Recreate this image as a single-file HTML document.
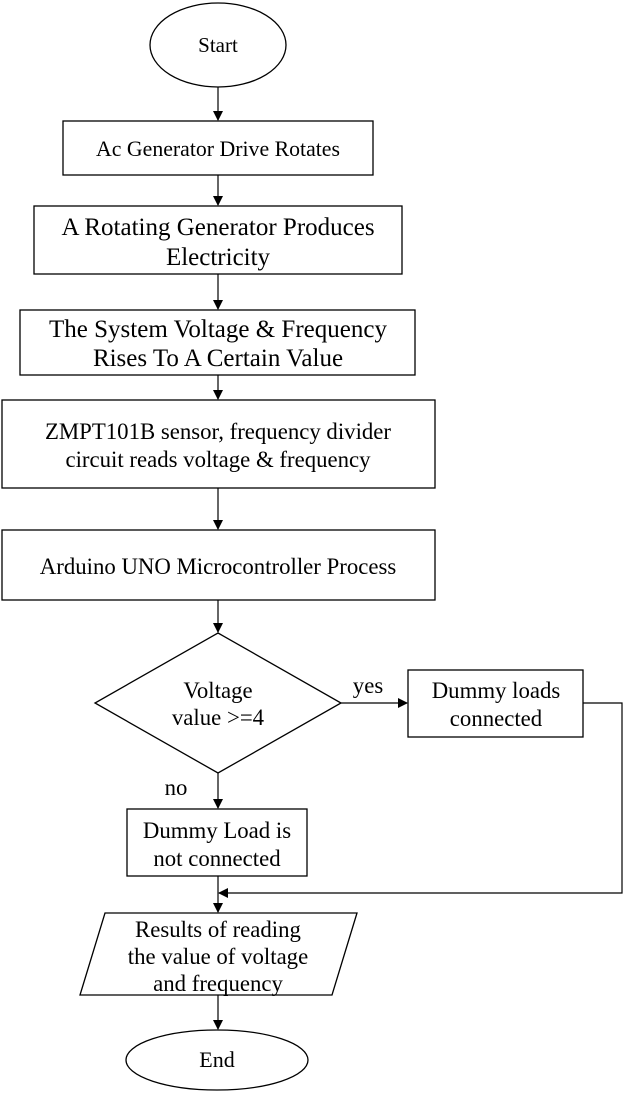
<!DOCTYPE html>
<html><head><style>html,body{margin:0;padding:0;background:#fff}svg{display:block}text{font-family:"Liberation Serif",serif;fill:#000}</style></head>
<body>
<svg width="623" height="1094" viewBox="0 0 623 1094" xmlns="http://www.w3.org/2000/svg">
<defs><marker id="a" markerWidth="10" markerHeight="10" refX="9" refY="5" orient="auto" markerUnits="userSpaceOnUse"><path d="M0,0 L10,5 L0,10 z" fill="#000"/></marker></defs>
<g stroke="#000" stroke-width="1.3" fill="#fff">
<ellipse cx="218" cy="45" rx="68" ry="42"/>
<rect x="63" y="121" width="310" height="54"/>
<rect x="34" y="206" width="368" height="68"/>
<rect x="20" y="310" width="395" height="65"/>
<rect x="2" y="400" width="433" height="88"/>
<rect x="2" y="530" width="433" height="70"/>
<polygon points="218,633 341,703 218,773 95,703"/>
<rect x="408" y="670" width="175" height="67"/>
<rect x="127" y="809" width="180" height="67"/>
<polygon points="105,913 357,913 332,995 80,995"/>
<ellipse cx="217" cy="1060" rx="91" ry="30"/>
</g>
<g stroke="#000" stroke-width="1.2" fill="none" marker-end="url(#a)">
<line x1="218" y1="87" x2="218" y2="120"/>
<line x1="218" y1="175" x2="218" y2="205"/>
<line x1="218" y1="274" x2="218" y2="309"/>
<line x1="218" y1="375" x2="218" y2="399"/>
<line x1="218" y1="488" x2="218" y2="529"/>
<line x1="218" y1="600" x2="218" y2="632"/>
<line x1="341" y1="703" x2="407" y2="703"/>
<line x1="218" y1="773" x2="218" y2="808"/>
<line x1="218" y1="876" x2="218" y2="912"/>
<polyline points="583,703 622,703 622,893 219,893"/>
<line x1="218" y1="995" x2="218" y2="1029"/>
</g>
<g text-anchor="middle">
<text x="218" y="52" font-size="21">Start</text>
<text x="218" y="156" font-size="21.8">Ac Generator Drive Rotates</text>
<text x="218" y="235" font-size="25">A Rotating Generator Produces</text>
<text x="218" y="265" font-size="25">Electricity</text>
<text x="218" y="337" font-size="25">The System Voltage &amp; Frequency</text>
<text x="218" y="366" font-size="25">Rises To A Certain Value</text>
<text x="218" y="439" font-size="22.8">ZMPT101B sensor, frequency divider</text>
<text x="218" y="467" font-size="22.8">circuit reads voltage &amp; frequency</text>
<text x="218" y="574" font-size="22.8">Arduino UNO Microcontroller Process</text>
<text x="218" y="698" font-size="22.8">Voltage</text>
<text x="218" y="725" font-size="22.8">value &gt;=4</text>
<text x="368" y="693" font-size="22.8">yes</text>
<text x="496" y="698" font-size="22.8">Dummy loads</text>
<text x="496" y="726" font-size="22.8">connected</text>
<text x="176" y="795" font-size="22.8">no</text>
<text x="217" y="838" font-size="22.8">Dummy Load is</text>
<text x="217" y="866" font-size="22.8">not connected</text>
<text x="218" y="937" font-size="22.8">Results of reading</text>
<text x="218" y="964" font-size="22.8">the value of voltage</text>
<text x="218" y="991" font-size="22.8">and frequency</text>
<text x="217" y="1067" font-size="22">End</text>
</g>
</svg>
</body></html>
